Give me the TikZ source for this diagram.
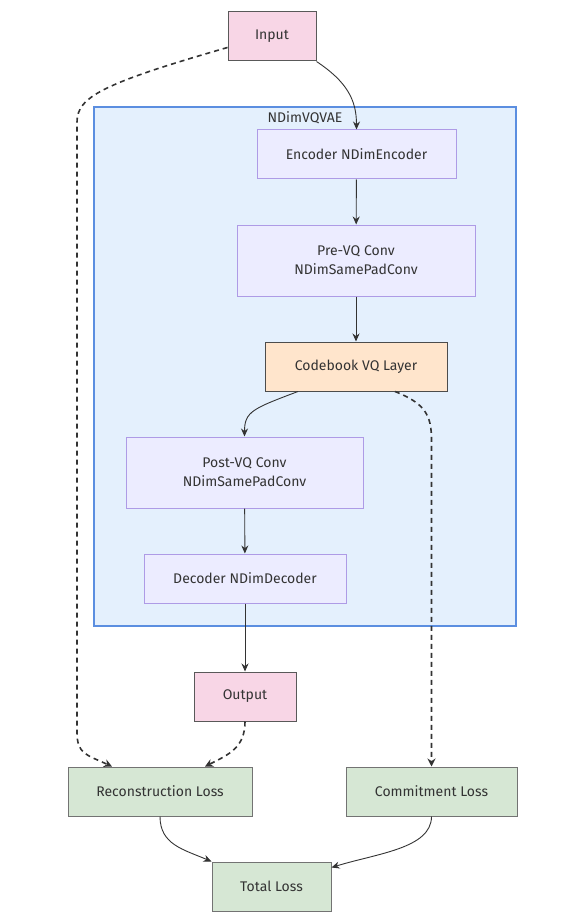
\documentclass[tikz,border=0pt]{standalone}
\usepackage{fontspec}
\setmainfont{Fira Sans}
\usetikzlibrary{arrows.meta,calc}
\definecolor{txt}{HTML}{333333}
\definecolor{clfill}{HTML}{E4F0FD}
\definecolor{cldraw}{HTML}{5B8EE0}
\definecolor{prfill}{HTML}{ECECFF}
\definecolor{prdraw}{HTML}{AE9BE6}
\definecolor{iofill}{HTML}{F8D6E6}
\definecolor{vqfill}{HTML}{FFE5CC}
\definecolor{lsfill}{HTML}{D6E7D4}
\definecolor{edge}{HTML}{333333}
\tikzset{
  box/.style={draw, line width=1pt, inner sep=0pt, align=center, text=txt,
    font=\fontsize{14}{19}\selectfont},
  proc/.style={box, fill=prfill, draw=prdraw},
  io/.style={box, fill=iofill, draw=black!65},
  vq/.style={box, fill=vqfill, draw=black!70},
  loss/.style={box, fill=lsfill, draw=black!55},
  flow/.style={draw=edge, line width=0.9pt, -{Stealth[length=8pt,width=7pt]}},
  aux/.style={draw=edge, line width=1.6pt, dash pattern=on 5pt off 4pt,
    -{Stealth[length=8pt,width=8pt]}},
}
\begin{document}
\begin{tikzpicture}[x=1pt,y=-1pt]
\useasboundingbox (0,0) rectangle (580,920);
% model cluster
\node[draw=cldraw, fill=clfill, line width=1.3pt, minimum width=422pt,
  minimum height=519pt, inner sep=0pt] (vqvae) at (305,366.5) {};
\node[text=txt, font=\fontsize{14}{16}\selectfont, anchor=north] (vqtitle)
  at (vqvae.north) [yshift=-2pt] {NDimVQVAE};

% nodes
\node[io, minimum width=88pt, minimum height=49pt] (in) at (272,36.5) {Input};
\node[proc, minimum width=199pt, minimum height=49pt] (enc) at (356.5,154.5) {Encoder NDimEncoder};
\node[proc, minimum width=238pt, minimum height=71pt] (pre) at (356,260.5) {Pre-VQ Conv\\NDimSamePadConv};
\node[vq, minimum width=182pt, minimum height=49pt] (cb) at (356,366.5) {Codebook VQ Layer};
\node[proc, minimum width=237pt, minimum height=71pt] (post) at (244.5,472.5) {Post-VQ Conv\\NDimSamePadConv};
\node[proc, minimum width=202pt, minimum height=49pt] (dec) at (245,578.5) {Decoder NDimDecoder};
\node[io, minimum width=102pt, minimum height=49pt] (out) at (245,696.5) {Output};
\node[loss, minimum width=184pt, minimum height=49pt] (rec) at (160,791.5) {Reconstruction Loss};
\node[loss, minimum width=171pt, minimum height=49pt] (com) at (431.5,791.5) {Commitment Loss};
\node[loss, minimum width=119pt, minimum height=49pt] (tot) at (271.5,886.5) {Total Loss};

% bend points of the long dashed connectors
\coordinate (lt) at (77,122);
\coordinate (lb) at (77,732);
\coordinate (cm) at (431.5,440);

% solid data flow
\draw[flow] (in.south east) .. controls +(30,20) and +(0,-30) .. (enc.north);
\draw[flow] (enc) -- (pre);
\draw[flow] (pre) -- (cb);
\draw[flow] ([xshift=-58pt]cb.south) .. controls +(-45,17) and +(0,-25) .. (post.north);
\draw[flow] (post) -- (dec);
\draw[flow] (dec) -- (out);
\draw[flow] (rec.south) .. controls +(0,28) and +(-28,-12) .. (tot.north west);
\draw[flow] (com.south) .. controls +(0,32) and +(45,-14) .. ([yshift=-6pt]tot.north east);

% dashed loss inputs
\draw[aux] ([yshift=-11pt]in.west) .. controls +(-125,36) and +(0,-25) .. (lt)
  -- (lb) .. controls +(0,22) and +(-26,-12) .. ([xshift=-48pt]rec.north);
\draw[aux] (out.south) .. controls +(0,26) and +(24,-12) .. ([xshift=45pt]rec.north);
\draw[aux] ([xshift=39pt]cb.south) .. controls +(30,12) and +(0,-25) .. (cm) -- (com.north);
\end{tikzpicture}
\end{document}
